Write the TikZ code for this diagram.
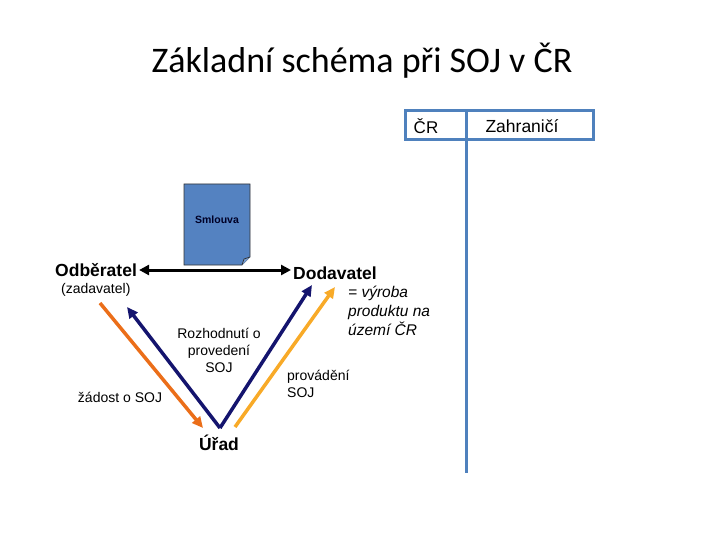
\documentclass[tikz,border=0pt]{standalone}
\usepackage{fontspec}
\setmainfont{Liberation Sans}
\newfontfamily\titlefont{Carlito}
\usetikzlibrary{arrows.meta}

\definecolor{tabblue}{RGB}{79,129,189}
\definecolor{docblue}{RGB}{84,130,193}
\definecolor{navyarr}{RGB}{20,20,110}
\definecolor{darkorg}{RGB}{235,110,25}
\definecolor{lightorg}{RGB}{248,170,40}

\tikzset{
  lbl/.style={inner sep=1pt, font=\fontsize{14}{17}\selectfont},
  party/.style={inner sep=2pt, font=\fontsize{17.5}{20}\selectfont\bfseries},
  flow/.style={line width=3.5pt, -{Triangle[length=11pt,width=10pt]}},
}

\begin{document}
\begin{tikzpicture}[x=1pt, y=-1pt]
            \useasboundingbox (0,0) rectangle (720,540);

            % title
            \node (title) at (362,61) {\titlefont\fontsize{36}{40}\selectfont Základní schéma při SOJ v ČR};

            % table
            \draw[tabblue, line width=3pt] (405,111) rectangle (593,140);
            \draw[tabblue, line width=3pt] (466,111) -- (466,473);
            \node[lbl, font=\fontsize{17}{19}\selectfont] (cr) at (426,126) {ČR};
            \node[lbl, font=\fontsize{17.5}{19}\selectfont] (abroad) at (522,126) {Zahraničí};

            % contract
            \draw[fill=docblue, draw=black!80, line width=0.7pt] (184,184) -- (250,184) -- (250,257) -- (242,265) -- (184,265) -- cycle;
            \draw[fill=docblue!80!white, draw=black!80, line width=0.7pt] (250,257) -- (244,259) -- (242,265);
            \node[inner sep=0pt, text=black!85!blue, font=\fontsize{10.5}{12}\selectfont\bfseries] (contract) at (217,220) {Smlouva};

            % parties
            \node[party, anchor=west] (odb) at (53,270) {Odběratel};
            \node[lbl, anchor=west] (zad) at (60,290) {(zadavatel)};
            \node[party, anchor=west] (dod) at (291,273) {Dodavatel};
            \node[lbl, anchor=north west, align=left, font=\fontsize{15.5}{19}\selectfont\itshape] (prod) at (347,285) {= výroba\\produktu na\\území ČR};
            \node[party] (office) at (219,443) {Úřad};

            \draw[line width=3pt, {Triangle[length=10pt,width=10pt]}-{Triangle[length=10pt,width=10pt]}] (odb.east) -- (odb.east -| dod.west);

            % arrows
            \coordinate (reqstart) at (100,303);
            \coordinate (reqend) at (203,428);
            \coordinate (vtip) at (220,428);
            \coordinate (decend) at (127,307);
            \coordinate (supend) at (312,285);
            \coordinate (runstart) at (235,427);
            \coordinate (runend) at (335,287);

            \draw[flow, darkorg] (reqstart) -- (reqend);
            \draw[flow, navyarr] (vtip) -- (decend);
            \draw[flow, navyarr] (vtip) -- (supend);
            \draw[flow, lightorg] (runstart) -- (runend);

            \node[lbl, align=center] (decision) at (219,350) {Rozhodnutí o\\provedení\\SOJ};
            \node[lbl] (request) at (120,397) {žádost o SOJ};
            \node[lbl, anchor=west, align=left] (running) at (286,384) {provádění\\SOJ};
        \end{tikzpicture}
\end{document}
